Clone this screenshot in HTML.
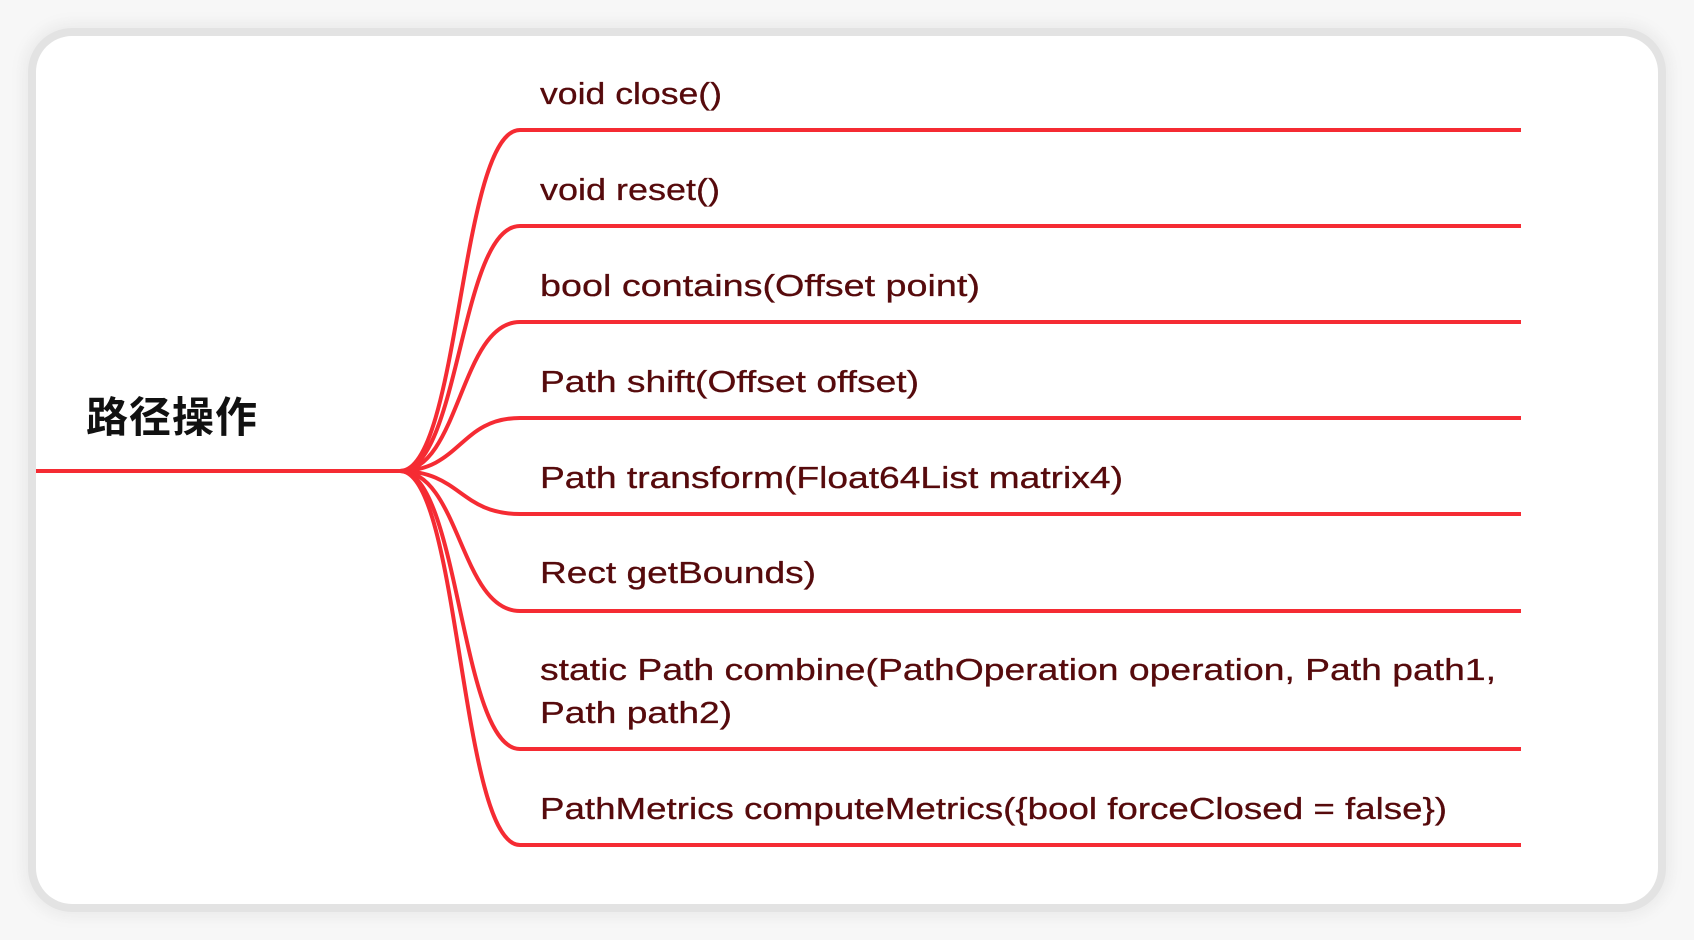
<!DOCTYPE html>
<html><head><meta charset="utf-8"><style>
html,body{margin:0;padding:0;background:#f7f7f7;width:1694px;height:940px;overflow:hidden}
.card{position:absolute;left:36px;top:36px;width:1622px;height:868px;background:#fff;border-radius:36px;box-shadow:0 0 0 8px #e3e3e3,0 0 12px 14px #ececec}
svg{position:absolute;left:0;top:0}
text{font-family:"Liberation Sans","Noto Sans CJK SC",sans-serif}
</style></head><body>
<div class="card"></div>
<svg width="1694" height="940" viewBox="0 0 1694 940">
<g fill="none" stroke="#f52b33" stroke-width="4">
<path d="M36 471 L400 471"/>
<path d="M400 471 C460 471 460 130 520 130 L1521 130"/>
<path d="M400 471 C460 471 460 226 520 226 L1521 226"/>
<path d="M400 471 C460 471 460 322 520 322 L1521 322"/>
<path d="M400 471 C460 471 460 418 520 418 L1521 418"/>
<path d="M400 471 C460 471 460 514 520 514 L1521 514"/>
<path d="M400 471 C460 471 460 611 520 611 L1521 611"/>
<path d="M400 471 C460 471 460 749 520 749 L1521 749"/>
<path d="M400 471 C460 471 460 845 520 845 L1521 845"/>
</g>
<text x="86" y="432" font-size="42" font-weight="bold" fill="#111" style='font-family:"Noto Sans CJK SC",sans-serif' textLength="171">路径操作</text>
<g fill="#560a0c" font-size="31" stroke="#560a0c" stroke-width="0.3">
<text x="540" y="104" textLength="182" lengthAdjust="spacingAndGlyphs">void close()</text>
<text x="540" y="200" textLength="180" lengthAdjust="spacingAndGlyphs">void reset()</text>
<text x="540" y="296" textLength="440" lengthAdjust="spacingAndGlyphs">bool contains(Offset point)</text>
<text x="540" y="392" textLength="379" lengthAdjust="spacingAndGlyphs">Path shift(Offset offset)</text>
<text x="540" y="488" textLength="583" lengthAdjust="spacingAndGlyphs">Path transform(Float64List matrix4)</text>
<text x="540" y="583" textLength="276" lengthAdjust="spacingAndGlyphs">Rect getBounds)</text>
<text x="540" y="680" textLength="956" lengthAdjust="spacingAndGlyphs">static Path combine(PathOperation operation, Path path1,</text>
<text x="540" y="723" textLength="192" lengthAdjust="spacingAndGlyphs">Path path2)</text>
<text x="540" y="819" textLength="907" lengthAdjust="spacingAndGlyphs">PathMetrics computeMetrics({bool forceClosed = false})</text>
</g>
</svg>
</body></html>
